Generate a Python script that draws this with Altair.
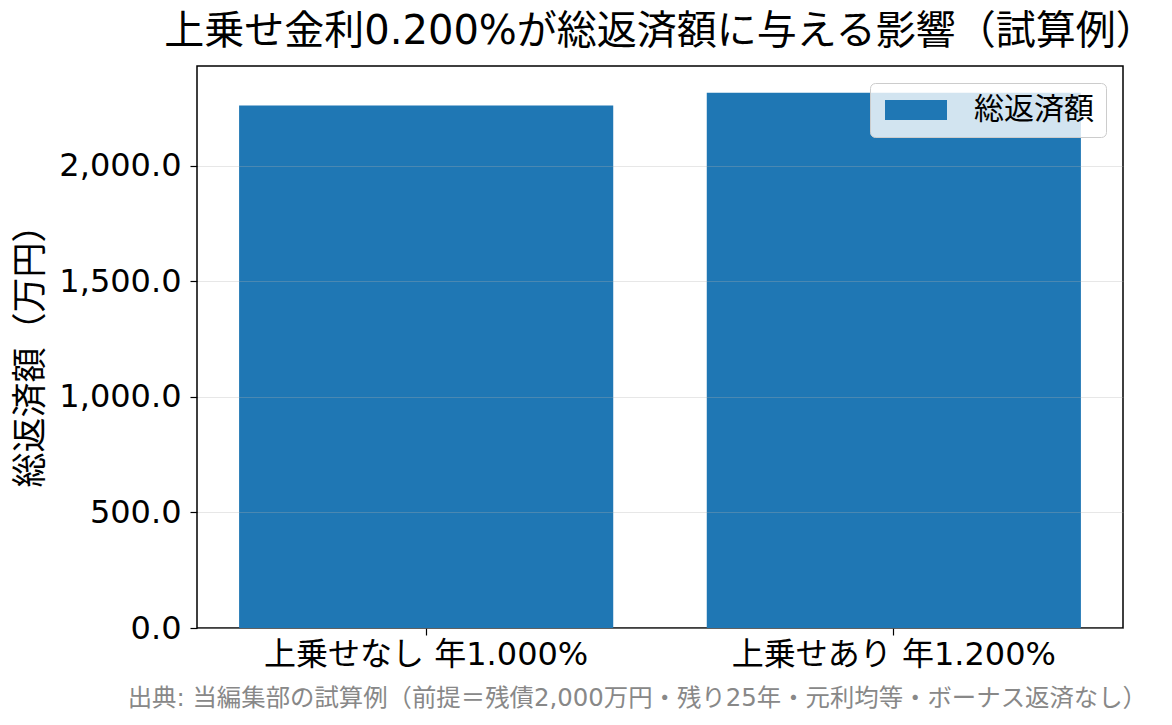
import altair as alt
import pandas as pd

categories = ["上乗せなし 年1.000%", "上乗せあり 年1.200%"]
totals = [2261.2, 2316.1]
series_name = "総返済額"
title_text = "上乗せ金利0.200%が総返済額に与える影響（試算例）"
y_title = "総返済額（万円）"
footer_text = "出典: 当編集部の試算例（前提＝残債2,000万円・残り25年・元利均等・ボーナス返済なし）"
y_ticks = [0, 500, 1000, 1500, 2000]
y_max = 2431.9

FONT = "'DejaVu Sans', 'Noto Sans CJK JP', sans-serif"

df = pd.DataFrame({"label": categories, "total": totals, "series": [series_name] * len(categories)})

bars = alt.Chart(df).mark_bar(color="#1f77b4").encode(
    x=alt.X(
        "label:N",
        sort=categories,
        scale=alt.Scale(paddingInner=0.2, paddingOuter=0.09),
        axis=alt.Axis(
            title=None,
            labelAngle=0,
            labelFontSize=32,
            labelColor="black",
            labelFont=FONT,
            labelLimit=800,
            tickColor="black",
            tickSize=7,
            tickWidth=1.2,
            labelPadding=4,
            domain=False,
            grid=False,
        ),
    ),
    y=alt.Y(
        "total:Q",
        scale=alt.Scale(domain=[0, y_max], nice=False, zero=True),
        axis=alt.Axis(
            title=y_title,
            values=y_ticks,
            format=",.1f",
            labelFontSize=32,
            labelFont=FONT,
            labelColor="black",
            labelLimit=400,
            titleFontSize=35,
            titleFont=FONT,
            titleFontWeight="normal",
            titleColor="black",
            titlePadding=10,
            tickColor="black",
            tickSize=7,
            tickWidth=1.2,
            labelPadding=9,
            domain=False,
            grid=True,
            gridColor="#b0b0b0",
            gridOpacity=0.3,
            gridWidth=1.2,
            zindex=1,
        ),
    ),
    fill=alt.Fill(
        "series:N",
        scale=alt.Scale(domain=[series_name], range=["#1f77b4"]),
        legend=alt.Legend(
            title=None,
            orient="none",
            legendX=673,
            legendY=17,
            symbolType="M-1.2,-1H5V1H-1.2Z",
            symbolSize=400,
            symbolStrokeWidth=0,
            labelFontSize=30,
            labelFont=FONT,
            labelColor="black",
            labelOffset=62,
            labelLimit=400,
            fillColor="rgba(255,255,255,0.8)",
            strokeColor="#cccccc",
            cornerRadius=5,
            padding=12,
            zindex=2,
        ),
    ),
)

footer = alt.Chart(pd.DataFrame({"t": [footer_text]})).mark_text(
    align="right",
    baseline="middle",
    fontSize=24.4,
    font=FONT,
    color="#888888",
).encode(
    text="t:N",
    x=alt.value(950),
    y=alt.value(633),
)

chart = alt.layer(bars, footer).properties(
    width=926,
    height=562,
    background="white",
    title=alt.TitleParams(
        text=title_text,
        fontSize=40,
        font=FONT,
        fontWeight="normal",
        color="black",
        anchor="middle",
        offset=14,
    ),
    autosize=alt.AutoSizeParams(type="none"),
    padding={"left": 189, "top": 58, "right": 40, "bottom": 88},
).configure_view(
    stroke="black",
    strokeWidth=1.5,
)

chart.save("out.html", embed_options={"renderer": "svg", "actions": False})
